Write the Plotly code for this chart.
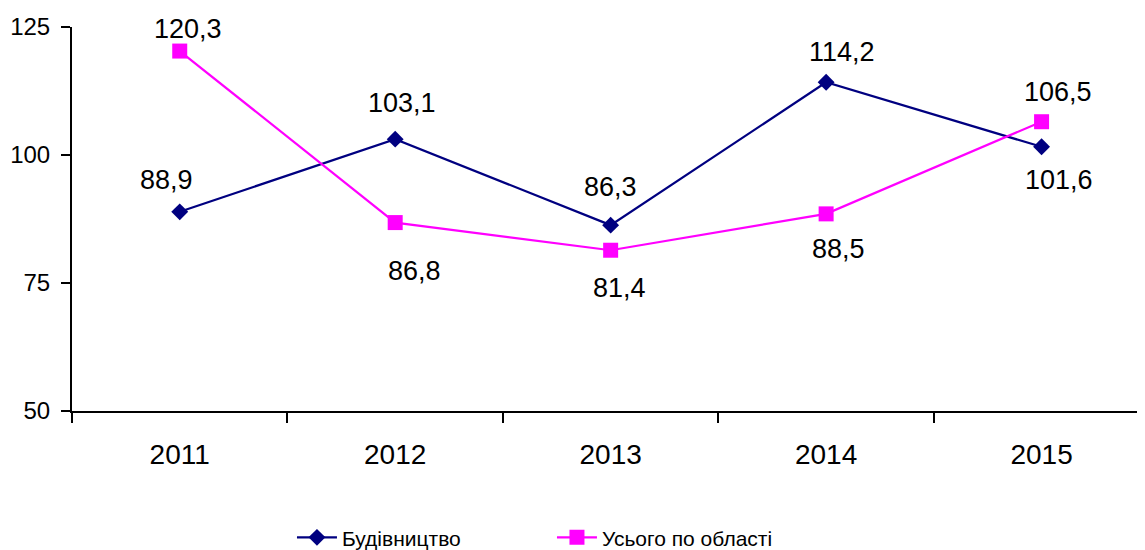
import plotly.graph_objects as go

years = ['2011', '2012', '2013', '2014', '2015']
budivnytstvo = [88.9, 103.1, 86.3, 114.2, 101.6]
usoho = [120.3, 86.8, 81.4, 88.5, 106.5]
y_ticks = [50, 75, 100, 125]

# label offsets from the marker (px)
shift_bud = [(-13, 32), (7, 36), (0, 38), (16, 30), (17, -33)]
shift_us = [(8, 22), (19, -48), (9, -38), (12, -35), (16, 30)]

FONT = 'Liberation Sans, Arial, sans-serif'

fig = go.Figure()

fig.add_trace(go.Scatter(
    x=years, y=budivnytstvo, name='Будівництво',
    mode='lines+markers',
    line=dict(color='#000080', width=2.2),
    marker=dict(symbol='diamond', size=13, color='#000080'),
    cliponaxis=False,
))

fig.add_trace(go.Scatter(
    x=years, y=usoho, name='Усього по області',
    mode='lines+markers',
    line=dict(color='#FF00FF', width=2.2),
    marker=dict(symbol='square', size=15, color='#FF00FF'),
    cliponaxis=False,
))

# data labels with comma decimals (x by category index, year strings
# would be read as numbers)
for vals, shifts in [(budivnytstvo, shift_bud), (usoho, shift_us)]:
    for i, (v, (dx, dy)) in enumerate(zip(vals, shifts)):
        fig.add_annotation(
            x=i, y=v, text=f'{v:.1f}'.replace('.', ','),
            showarrow=False, xshift=dx, yshift=dy,
            font=dict(size=27, color='black', family=FONT),
        )

# page body adds 8px around the figure, so margins are trimmed by that
fig.update_layout(
    width=1137, height=552,
    margin=dict(l=64, r=0, t=19, b=149),
    plot_bgcolor='white', paper_bgcolor='white',
    font=dict(family=FONT, color='black'),
    showlegend=True,
    legend=dict(
        orientation='h', x=0.205, y=-0.33, xanchor='left', yanchor='middle',
        font=dict(size=21), entrywidth=205, entrywidthmode='pixels',
        itemwidth=40,
    ),
)

fig.update_xaxes(
    type='category', range=[-0.5, 4.48],
    showline=True, linecolor='black', linewidth=2,
    ticks='outside', ticklen=10, tickwidth=1.5, tickcolor='black',
    tickson='boundaries', showgrid=False, zeroline=False,
    tickfont=dict(size=28), ticklabelstandoff=17,
)

fig.update_yaxes(
    range=[50, 125], tickvals=y_ticks,
    showline=True, linecolor='black', linewidth=2,
    ticks='outside', ticklen=9, tickwidth=2, tickcolor='black',
    showgrid=False, zeroline=False,
    tickfont=dict(size=24), ticklabelstandoff=6,
)

fig.write_html('out.html')
